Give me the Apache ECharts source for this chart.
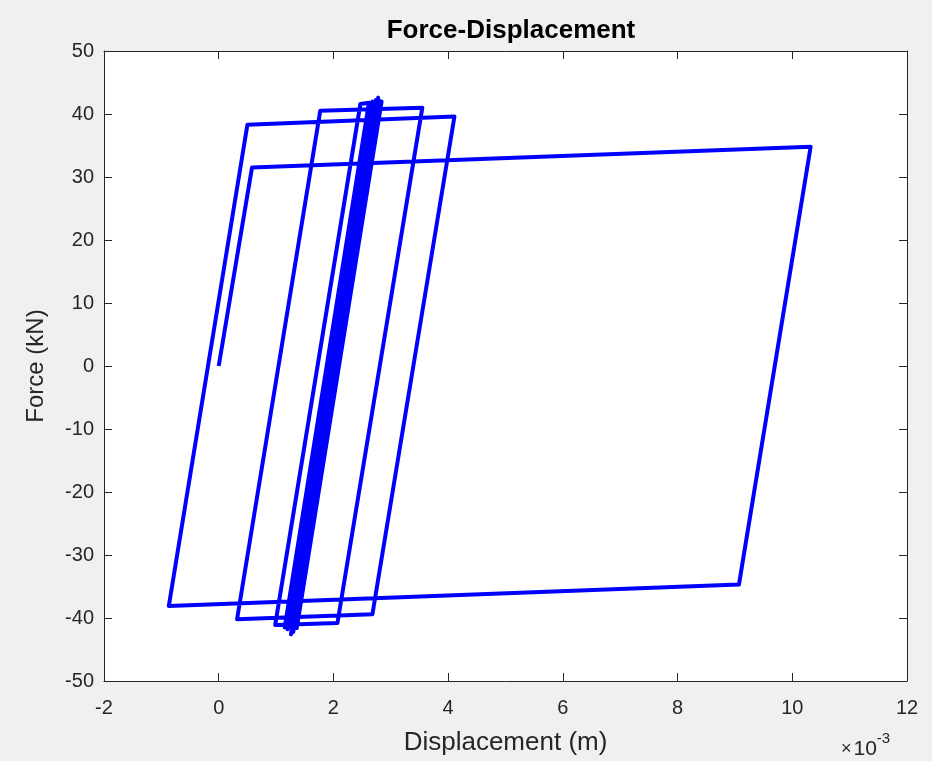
<!DOCTYPE html>
<html>
<head>
<meta charset="utf-8">
<style>
  html, body { margin: 0; padding: 0; background: #f0f0f0; }
  #chart { width: 932px; height: 761px; }
</style>
<script src="https://cdn.jsdelivr.net/npm/echarts@6/dist/echarts.min.js"></script>
</head>
<body>
<div id="chart"></div>
<script>
// displacement in units of 1e-3 m, force in kN
var dispValues = [0, 0.58, 10.32, 9.07, -0.87, 0.50, 4.11, 2.68, 0.32, 1.77, 3.55, 2.07, 0.985,
  2.47, 2.62, 1.15, 2.68, 1.20, 2.74, 1.26, 2.78, 1.30, 2.84, 1.36, 2.80, 1.28, 2.72, 1.22];
var forceValues = [0, 31.5, 34.8, -34.7, -38.1, 38.3, 39.6, -39.4, -40.2, 40.5, 41.0, -40.8, -41.1,
  41.6, 41.8, -41.5, 42.0, -41.8, 42.2, -42.6, 42.6, -42.2, 42.0, -41.6, 42.1, -42.0, 41.9, -41.7];
var xTicks = [-2, 0, 2, 4, 6, 8, 10, 12];
var yTicks = [-50, -40, -30, -20, -10, 0, 10, 20, 30, 40, 50];

var chart = echarts.init(document.getElementById('chart'));
var points = dispValues.map(function (d, i) { return [d, forceValues[i]]; });

var font = 'Liberation Sans, Arial, sans-serif';
var axisColor = '#262626';

function xAxisCfg(pos, showLabel) {
  return {
    type: 'value',
    position: pos,
    min: xTicks[0],
    max: xTicks[xTicks.length - 1],
    interval: 2,
    axisLine: { show: true, onZero: false, lineStyle: { color: axisColor, width: 1 } },
    axisTick: { show: true, inside: true, length: 8, lineStyle: { color: axisColor } },
    axisLabel: { show: showLabel, color: '#262626', fontSize: 20, fontFamily: font, margin: 17 },
    splitLine: { show: false },
  };
}
function yAxisCfg(pos, showLabel) {
  return {
    type: 'value',
    position: pos,
    min: yTicks[0],
    max: yTicks[yTicks.length - 1],
    interval: 10,
    axisLine: { show: true, onZero: false, lineStyle: { color: axisColor, width: 1 } },
    axisTick: { show: true, inside: true, length: 8, lineStyle: { color: axisColor } },
    axisLabel: { show: showLabel, color: '#262626', fontSize: 20, fontFamily: font, margin: 10 },
    splitLine: { show: false },
  };
}

var xMain = xAxisCfg('bottom', true);
xMain.name = 'Displacement (m)';
xMain.nameLocation = 'middle';
xMain.nameGap = 49;
xMain.nameTextStyle = { color: '#262626', fontSize: 26, fontFamily: font };
var yMain = yAxisCfg('left', true);
yMain.name = 'Force (kN)';
yMain.nameLocation = 'middle';
yMain.nameGap = 56;
yMain.nameTextStyle = { color: '#262626', fontSize: 24, fontFamily: font };

var option = {
  backgroundColor: '#f0f0f0',
  animation: false,
  title: {
    text: 'Force-Displacement',
    left: 506,
    textAlign: 'center',
    top: 13,
    textStyle: { color: '#000', fontSize: 26, fontWeight: 'bold', fontFamily: font },
  },
  grid: {
    left: 104,
    top: 51,
    width: 803,
    height: 634,
    show: true,
    backgroundColor: '#ffffff',
    borderWidth: 0,
  },
  xAxis: [xMain, xAxisCfg('top', false)],
  yAxis: [yMain, yAxisCfg('right', false)],
  graphic: [{
    type: 'text',
    left: 841,
    top: 731,
    style: {
      text: '{a|\u00d7}{b|10}{c|-3}',
      rich: {
        a: { fontSize: 18, fontFamily: font, fill: '#262626', padding: [8, 2, 0, 0] },
        b: { fontSize: 21, fontFamily: font, fill: '#262626', padding: [8, 0, 0, 0] },
        c: { fontSize: 15, fontFamily: font, fill: '#262626', verticalAlign: 'top', padding: [0, 0, 10, 0] },
      },
    },
  }],
  series: [{
    type: 'line',
    data: points,
    showSymbol: false,
    lineStyle: { color: '#0000ff', width: 4, join: 'round' },
    itemStyle: { color: '#0000ff' },
  }],
};
chart.setOption(option);
</script>
</body>
</html>
